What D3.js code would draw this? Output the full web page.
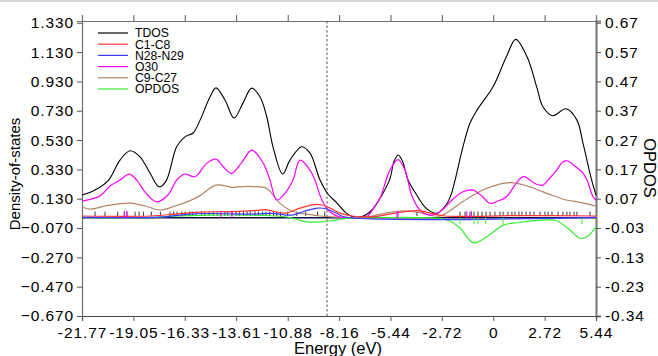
<!DOCTYPE html>
<html><head><meta charset="utf-8">
<script src="https://cdn.jsdelivr.net/npm/d3@7"></script>
<style>
html,body{margin:0;padding:0;background:#fff;}
svg{display:block;font-family:"Liberation Sans",Arial,sans-serif;}
</style></head>
<body><svg id="c" width="658" height="356"></svg>
<script>
// ---- data ----
const energyTicks = [-21.77,-19.05,-16.33,-13.61,-10.88,-8.16,-5.44,-2.72,0,2.72,5.44];
const energyTickLabels = ["-21.77","-19.05","-16.33","-13.61","-10.88","-8.16","-5.44","-2.72","0","2.72","5.44"];
const dosTicks = [1.33,1.13,0.93,0.73,0.53,0.33,0.13,-0.07,-0.27,-0.47,-0.67];
const opdosTicks = [0.665,0.565,0.465,0.365,0.265,0.165,0.065,-0.035,-0.135,-0.235,-0.335];
const opdosTickLabels = ["0.67","0.57","0.47","0.37","0.27","0.17","0.07","-0.03","-0.13","-0.23","-0.34"];
const homoLevel = -8.80;

const tdos = [[-21.77,0.155],[-21.08,0.189],[-20.36,0.257],[-19.76,0.393],[-19.23,0.457],[-18.70,0.416],[-18.17,0.305],[-17.69,0.211],[-17.32,0.250],[-16.76,0.484],[-16.32,0.552],[-15.89,0.578],[-15.52,0.666],[-14.99,0.825],[-14.68,0.886],[-14.20,0.803],[-13.72,0.680],[-13.25,0.782],[-12.79,0.884],[-12.35,0.825],[-11.99,0.689],[-11.66,0.484],[-11.15,0.298],[-10.76,0.393],[-10.14,0.484],[-9.70,0.441],[-9.17,0.257],[-8.75,0.162],[-8.32,0.107],[-7.85,0.039],[-7.48,0.008],[-6.95,0.008],[-6.42,0.053],[-5.89,0.155],[-5.47,0.265],[-5.25,0.385],[-5.03,0.428],[-4.80,0.385],[-4.51,0.257],[-4.05,0.155],[-3.56,0.066],[-2.99,0.030],[-2.50,0.087],[-2.24,0.155],[-2.02,0.257],[-1.65,0.460],[-1.23,0.646],[-0.86,0.734],[-0.01,0.893],[0.73,1.109],[1.19,1.217],[1.79,1.098],[2.32,0.884],[2.63,0.757],[3.15,0.696],[3.85,0.743],[4.43,0.666],[4.75,0.509],[5.21,0.257],[5.44,0.155]];

const c1c8 = [[-21.77,0.012],[-18.17,0.012],[-16.85,0.025],[-15.52,0.039],[-13.93,0.042],[-12.61,0.049],[-12.08,0.056],[-11.02,0.032],[-10.23,0.066],[-9.49,0.090],[-9.07,0.087],[-8.64,0.066],[-8.11,0.032],[-7.48,0.012],[-6.26,0.008],[-5.20,0.032],[-3.98,0.049],[-3.24,0.029],[-2.55,0.012],[1.42,0.015],[5.44,0.012]];

const n28n29 = [[-21.77,0.003],[-17.64,0.005],[-16.32,0.022],[-14.99,0.029],[-12.61,0.025],[-11.71,0.030],[-10.65,0.018],[-9.97,0.046],[-9.28,0.066],[-8.91,0.063],[-8.32,0.032],[-7.85,0.005],[5.44,0.003]];

const o30 = [[-21.77,0.114],[-20.82,0.148],[-20.29,0.216],[-19.76,0.257],[-19.27,0.298],[-18.87,0.257],[-18.43,0.175],[-17.82,0.109],[-17.22,0.155],[-16.76,0.257],[-16.35,0.298],[-15.79,0.280],[-15.17,0.371],[-14.68,0.400],[-14.29,0.348],[-13.85,0.303],[-13.30,0.380],[-12.79,0.462],[-12.17,0.371],[-11.82,0.257],[-11.46,0.121],[-11.02,0.168],[-10.60,0.257],[-10.23,0.393],[-9.70,0.325],[-9.44,0.257],[-9.07,0.121],[-8.64,0.039],[-8.11,0.005],[-7.05,0.001],[-6.68,0.008],[-6.26,0.080],[-5.99,0.134],[-5.47,0.325],[-5.04,0.397],[-4.67,0.325],[-4.32,0.155],[-3.88,0.053],[-3.35,0.018],[-2.82,0.041],[-2.18,0.121],[-1.60,0.177],[-1.07,0.189],[-0.60,0.148],[-0.17,0.098],[0.25,0.114],[0.71,0.143],[1.15,0.223],[1.58,0.280],[1.95,0.257],[2.26,0.230],[2.63,0.223],[3.00,0.271],[3.36,0.325],[3.69,0.382],[3.96,0.387],[4.38,0.346],[4.75,0.305],[4.96,0.257],[5.28,0.143],[5.44,0.120]];

const c9c27 = [[-21.77,0.073],[-21.35,0.059],[-20.55,0.080],[-19.23,0.100],[-18.43,0.080],[-17.64,0.053],[-16.85,0.080],[-16.05,0.117],[-15.52,0.151],[-14.68,0.223],[-13.78,0.207],[-13.25,0.213],[-12.72,0.213],[-11.99,0.200],[-11.29,0.098],[-10.58,0.041],[-9.87,0.025],[-9.17,0.012],[-8.11,0.003],[-6.79,0.003],[-5.73,0.032],[-4.94,0.046],[-4.30,0.044],[-3.77,0.032],[-3.24,0.015],[-2.82,0.012],[-2.39,0.039],[-1.87,0.087],[-1.23,0.141],[-0.44,0.196],[0.25,0.226],[0.89,0.239],[1.42,0.230],[1.95,0.211],[2.63,0.177],[3.32,0.145],[3.85,0.121],[4.42,0.109],[4.91,0.097],[5.44,0.080]];

// OPDOS on right axis
const opdos = [[-21.77,0.000],[-18.17,0.001],[-17.11,0.005],[-14.99,0.009],[-11.82,0.007],[-10.76,0.001],[-9.97,-0.013],[-9.07,-0.014],[-8.38,-0.008],[-7.74,-0.002],[-3.35,0.000],[-2.82,-0.002],[-2.29,-0.011],[-1.76,-0.035],[-1.06,-0.085],[-0.35,-0.065],[0.53,-0.025],[1.24,-0.017],[2.65,-0.008],[3.36,-0.010],[4.06,-0.042],[4.59,-0.070],[4.96,-0.065],[5.44,-0.031]];

// eigenvalue sticks
const eigenAll = [-21.08,-20.55,-19.88,-19.53,-19.39,-18.96,-18.75,-18.52,-18.10,-17.62,-17.11,-16.92,-16.74,-16.49,-16.31,-16.08,-15.91,-15.73,-15.44,-15.27,-15.04,-14.82,-14.61,-14.42,-14.21,-14.06,-13.83,-13.61,-13.44,-13.22,-13.03,-12.86,-12.61,-12.43,-12.21,-12.03,-11.84,-11.63,-11.46,-11.26,-10.88,-10.40,-9.93,-9.30,-8.92,-4.04,-1.76,-1.49,-1.23,-1.02,-0.81,-0.59,-0.38,-0.17,0.09,0.36,0.52,0.78,0.99,1.15,1.36,1.52,1.74,1.95,2.16,2.48,2.74,2.90,3.11,3.43,3.69,3.90,4.06,4.28,4.43,5.12];
const eigenO30 = [-19.53,-19.39,-14.42,-13.83,-5.10,-5.04,-1.40,-1.15];
const eigenOpdos = [-1.76,-1.02,-0.81,-0.40,0.52,4.70];

const legendNames = ["TDOS","C1-C8","N28-N29","O30","C9-C27","OPDOS"];
const legendColors = ["#000000","#ff3333","#3b3bff","#ff00ff","#b58468","#33ee33"];

// ---- chart ----
const svg = d3.select("#c");
const W = 658, H = 356;
const x = d3.scaleLinear().domain([-21.77, 5.44]).range([82, 596]);
const y = d3.scaleLinear().domain([-0.67, 1.342]).range([316, 21]);
const y2 = d3.scaleLinear().domain([-0.335, 0.671]).range([316, 21]);

// top border artifact
svg.append("rect").attr("x",0).attr("y",0).attr("width",W).attr("height",2).attr("fill","#d4d4d4");

const tickFont = "15.5px";
const gL = svg.append("g").attr("transform","translate(82,0)")
  .call(d3.axisLeft(y).tickValues(dosTicks).tickFormat(d3.format(".3f")).tickSize(5).tickPadding(3));
const gR = svg.append("g").attr("transform","translate(596,0)")
  .call(d3.axisRight(y2).tickValues(opdosTicks).tickFormat((d,i)=>opdosTickLabels[i]).tickSize(5).tickPadding(4));
const gB = svg.append("g").attr("transform","translate(0,316)")
  .call(d3.axisBottom(x).tickValues(energyTicks).tickFormat((d,i)=>energyTickLabels[i]).tickSize(5).tickPadding(6));
const gT = svg.append("g").attr("transform","translate(0,21)")
  .call(d3.axisTop(x).tickValues(energyTicks).tickFormat("").tickSize(6));

[gL,gR,gB,gT].forEach(g=>{
  g.select(".domain").attr("stroke","#707070").attr("stroke-width",1.2);
  g.selectAll(".tick line").attr("stroke","#555");
  g.selectAll("text").attr("fill","#000").style("font-size",tickFont).style("letter-spacing","0.9px")
    .style("font-family","'Liberation Sans',Arial,sans-serif");
});
gR.select(".domain").attr("stroke","#808080").attr("stroke-width",2.2);
gB.select(".domain").attr("stroke","#444");
gT.selectAll(".tick").filter((d,i)=> i===0 || i===energyTicks.length-1).remove();

// dashed HOMO line
svg.append("line").attr("x1",x(homoLevel)).attr("x2",x(homoLevel)).attr("y1",21).attr("y2",316)
  .attr("stroke","#555").attr("stroke-width",1).attr("stroke-dasharray","2.5,2");

const plot = svg.append("g");
plot.append("line").attr("x1",82).attr("x2",596).attr("y1",y(0)).attr("y2",y(0))
  .attr("stroke","#101040").attr("stroke-width",1.6);

plot.selectAll("line.eig").data(eigenAll).join("line").attr("class","eig")
  .attr("x1",d=>x(d)).attr("x2",d=>x(d)).attr("y1",y(0.012)).attr("y2",y(0.042))
  .attr("stroke","#222").attr("stroke-width",0.9);

const crv = d3.curveCatmullRom.alpha(0.5);
const line = d3.line().x(d=>x(d[0])).y(d=>y(d[1])).curve(crv);
const line2 = d3.line().x(d=>x(d[0])).y(d=>y2(d[1])).curve(crv);

plot.append("path").attr("d",line(c9c27)).attr("fill","none").attr("stroke",legendColors[4]).attr("stroke-width",1.2);
plot.append("path").attr("d",line(tdos)).attr("fill","none").attr("stroke",legendColors[0]).attr("stroke-width",1.1);
plot.append("path").attr("d",line(o30)).attr("fill","none").attr("stroke",legendColors[3]).attr("stroke-width",1.2);
plot.append("path").attr("d",line2(opdos)).attr("fill","none").attr("stroke",legendColors[5]).attr("stroke-width",1.2);
plot.append("path").attr("d",line(c1c8)).attr("fill","none").attr("stroke",legendColors[1]).attr("stroke-width",1.2);
plot.append("path").attr("d",line(n28n29)).attr("fill","none").attr("stroke",legendColors[2]).attr("stroke-width",1.2);

plot.selectAll("line.eo").data(eigenO30).join("line").attr("class","eo")
  .attr("x1",d=>x(d)).attr("x2",d=>x(d)).attr("y1",y(0)).attr("y2",y(0.045))
  .attr("stroke","#ff00ff").attr("stroke-width",1);
plot.selectAll("line.eg").data(eigenOpdos).join("line").attr("class","eg")
  .attr("x1",d=>x(d)).attr("x2",d=>x(d)).attr("y1",y2(0)).attr("y2",y2(-0.022))
  .attr("stroke","#33ee33").attr("stroke-width",1);

// legend
const lg = svg.append("g");
legendNames.forEach((n,i)=>{
  const yy = 33 + i*11.2;
  lg.append("line").attr("x1",98).attr("x2",128).attr("y1",yy).attr("y2",yy)
    .attr("stroke",legendColors[i]).attr("stroke-width",1.2);
  lg.append("text").attr("x",135).attr("y",yy).attr("dy","0.36em")
    .style("font-size","12.2px").text(n);
});

svg.append("text").attr("transform","translate(20,174) rotate(-90)").attr("text-anchor","middle")
  .style("font-size","15px").text("Density-of-states");
svg.append("text").attr("x",338).attr("y",354).attr("text-anchor","middle")
  .style("font-size","16.5px").text("Energy (eV)");
svg.append("text").attr("transform","translate(644,168) rotate(90)").attr("text-anchor","middle")
  .style("font-size","16.5px").text("OPDOS");
</script></body></html>
